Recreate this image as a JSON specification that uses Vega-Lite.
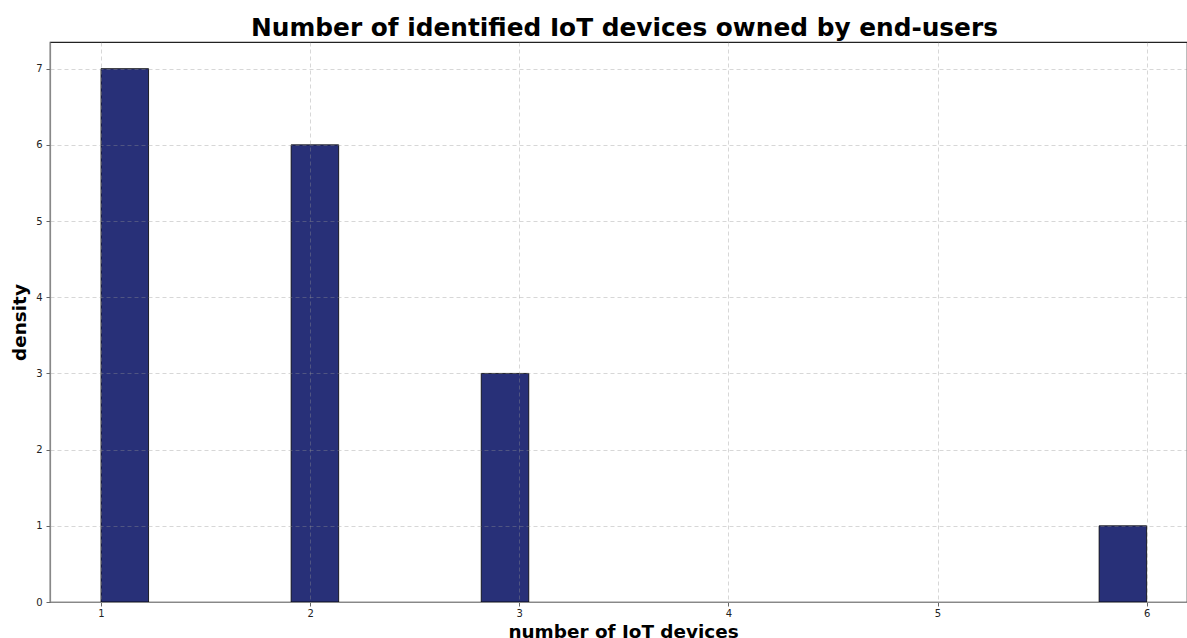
{
  "$schema": "https://vega.github.io/schema/vega-lite/v6.json",
  "autosize": {"type": "none"},
  "padding": {"left": 50, "top": 42, "right": 0, "bottom": 36},
  "width": 1137,
  "height": 560,
  "background": "white",
  "title": {
    "text": "Number of identified IoT devices owned by end-users",
    "font": "DejaVu Sans",
    "fontSize": 24.8,
    "fontWeight": "bold",
    "color": "black",
    "anchor": "middle",
    "dx": 6,
    "offset": 1
  },
  "config": {
    "view": {"stroke": "#222", "strokeWidth": 1.2},
    "axis": {
      "labelFont": "DejaVu Sans",
      "labelFontSize": 10,
      "labelColor": "#222",
      "titleFont": "DejaVu Sans",
      "titleFontSize": 18.4,
      "titleFontWeight": "bold",
      "titleColor": "black",
      "domainColor": "#888",
      "domainWidth": 1.2,
      "tickColor": "#666",
      "tickSize": 4,
      "gridColor": "#939393",
      "gridOpacity": 0.47,
      "gridDash": [4, 3],
      "gridWidth": 0.8
    }
  },
  "data": {
    "values": [
      {"bin_start": 1.0, "bin_end": 1.22727, "count": 7},
      {"bin_start": 1.90909, "bin_end": 2.13636, "count": 6},
      {"bin_start": 2.81818, "bin_end": 3.04545, "count": 3},
      {"bin_start": 5.77273, "bin_end": 6.0, "count": 1}
    ]
  },
  "mark": {"type": "rect", "fill": "#283078", "stroke": "black", "strokeWidth": 0.8},
  "encoding": {
    "x": {
      "field": "bin_start",
      "type": "quantitative",
      "scale": {"domain": [0.756, 6.193], "nice": false, "zero": false},
      "axis": {
        "values": [1, 2, 3, 4, 5, 6],
        "format": "d",
        "title": "number of IoT devices",
        "titleX": 573,
        "grid": true,
        "zindex": 1,
        "labelPadding": 2,
        "titlePadding": 4
      }
    },
    "x2": {"field": "bin_end"},
    "y": {
      "field": "count",
      "type": "quantitative",
      "scale": {"domain": [0, 7.35], "nice": false},
      "axis": {
        "values": [0, 1, 2, 3, 4, 5, 6, 7],
        "format": "d",
        "title": "density",
        "grid": true,
        "zindex": 1,
        "labelPadding": 4,
        "titlePadding": 6
      }
    },
    "y2": {"datum": 0}
  }
}
